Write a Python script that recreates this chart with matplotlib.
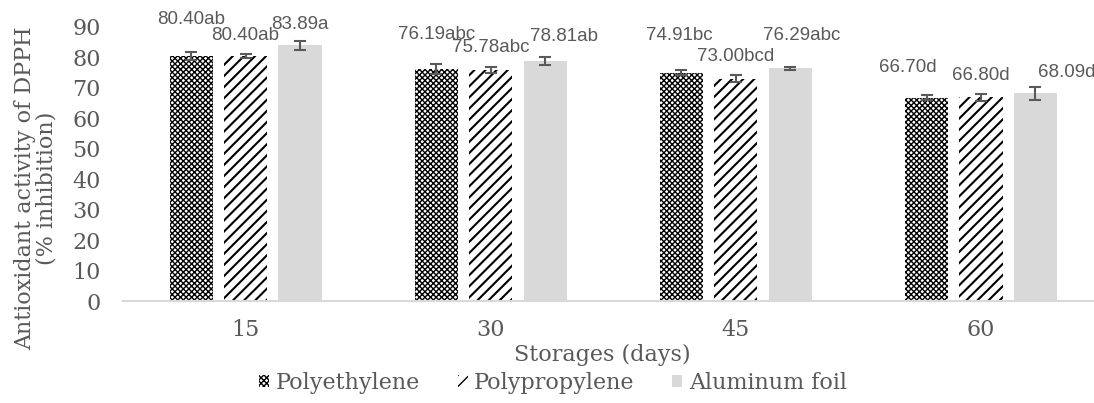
import matplotlib
matplotlib.use("Agg")
import matplotlib.pyplot as plt
import numpy as np

categories = ["15", "30", "45", "60"]
series_names = ["Polyethylene", "Polypropylene", "Aluminum foil"]
polyethylene = [80.40, 76.19, 74.91, 66.70]
polypropylene = [80.40, 75.78, 73.00, 66.80]
aluminum = [83.89, 78.81, 76.29, 68.09]
err_pe = [1.3, 1.6, 0.8, 0.9]
err_pp = [0.7, 1.1, 1.0, 1.1]
err_al = [1.4, 1.3, 0.5, 2.0]
labels_pe = ["80.40ab", "76.19abc", "74.91bc", "66.70d"]
labels_pp = ["80.40ab", "75.78abc", "73.00bcd", "66.80d"]
labels_al = ["83.89a", "78.81ab", "76.29abc", "68.09d"]
y_ticks = [0, 10, 20, 30, 40, 50, 60, 70, 80, 90]

# label layout offsets (pixels): dx from bar centre, dy above bar top
lab_dx = [[0, 0, 0], [0, 0, 19], [-2, 0, 11], [-19, 0, 31]]
lab_dy = [[36, 20, 21], [34, 23, 24], [37, 22, 33], [30, 22, 21]]

W, H = 1094, 403
fig = plt.figure(figsize=(W / 100, H / 100), dpi=100)
left, right, bottom_px, top_px = 123, 1103.5, 301, 26.7
ax = fig.add_axes([left / W, (H - bottom_px) / H, (right - left) / W, (bottom_px - top_px) / H])

x = np.arange(len(categories))
bw = 0.176
off = 0.222
gray = "#595959"
serif = "DejaVu Serif"
sans = "Liberation Sans"
fs = 16

series = [polyethylene, polypropylene, aluminum]
errs = [err_pe, err_pp, err_al]
labs = [labels_pe, labels_pp, labels_al]
styles = [
    dict(facecolor="white", edgecolor="black", hatch="xxxxxx", linewidth=0),
    dict(facecolor="white", edgecolor="black", hatch="///", linewidth=0),
    dict(facecolor="#d9d9d9", edgecolor="#d9d9d9", linewidth=0),
]
hatch_lw = [1.0, 1.5, 1.0]
handles = []
for i, (vals, e, st) in enumerate(zip(series, errs, styles)):
    plt.rcParams["hatch.linewidth"] = hatch_lw[i]
    pos = x + (i - 1) * off
    b = ax.bar(pos, vals, bw, label=series_names[i], **st)
    handles.append(b)
    ax.errorbar(pos, vals, yerr=e, fmt="none", ecolor=gray, elinewidth=1.5,
                capsize=4, capthick=1.5)
    for j, v in enumerate(vals):
        ax.annotate(labs[i][j], (pos[j], v), xytext=(lab_dx[j][i] * 0.72, lab_dy[j][i] * 0.72),
                    textcoords="offset points", ha="center", va="center",
                    fontsize=13.5, family=sans, color=gray, annotation_clip=False)

ax.set_xlim(-0.5, len(categories) - 0.5)
ax.set_ylim(0, 90)
ax.set_yticks(y_ticks)
ax.set_xticks(x)
ax.set_xticklabels(categories)
for s in ["top", "right", "left"]:
    ax.spines[s].set_visible(False)
ax.spines["bottom"].set_color("#d9d9d9")
ax.spines["bottom"].set_linewidth(1.5)
ax.tick_params(axis="both", length=0, labelsize=fs, labelcolor=gray)
ax.tick_params(axis="y", pad=16)
ax.tick_params(axis="x", pad=13)
for t in ax.get_xticklabels() + ax.get_yticklabels():
    t.set_family(serif)

fig.text(602 / W, 1 - 355 / H, "Storages (days)", ha="center", va="center",
         fontsize=fs, family=serif, color=gray)
fig.text(36 / W, 1 - 188 / H, "Antioxidant activity of DPPH\n(% inhibition)", ha="center",
         va="center", rotation=90, fontsize=fs, family=serif, color=gray,
         multialignment="center", linespacing=1.0)

leg = fig.legend(handles=handles, loc="center", bbox_to_anchor=(553 / W, 1 - 383 / H),
                 ncol=3, frameon=False, prop=dict(family=serif, size=fs),
                 handlelength=0.45, handleheight=0.45, handletextpad=0.3, columnspacing=1.7,
                 labelcolor=gray)

fig.savefig("out.png", dpi=100)
